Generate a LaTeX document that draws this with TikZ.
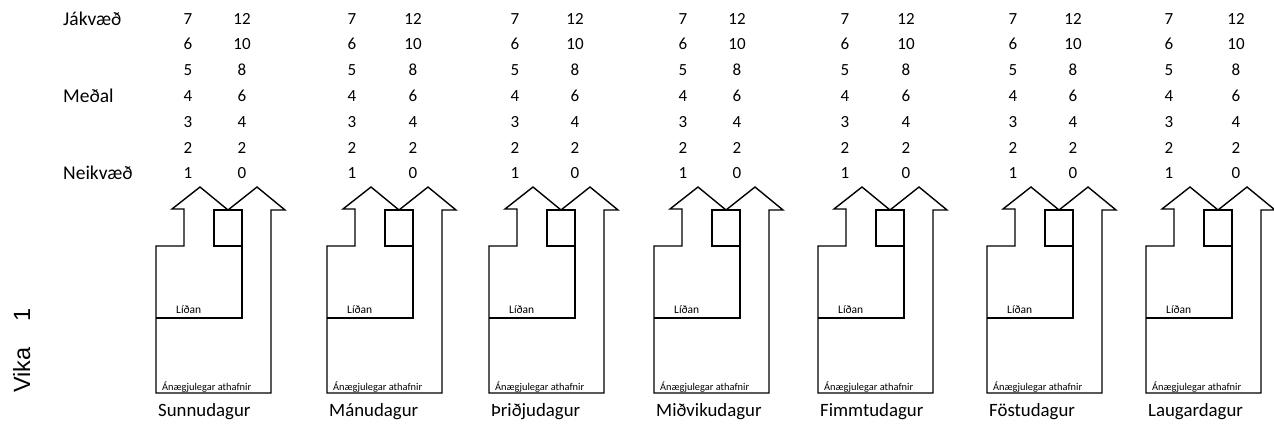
\documentclass[tikz,border=0pt]{standalone}
\usepackage{fontspec}
\setmainfont{Carlito}
\newfontfamily\vikafont{Liberation Sans}
\begin{document}
\begin{tikzpicture}[x=1pt,y=-1pt,
  outline/.style={draw=black,line width=1.4pt,line join=miter},
  numtxt/.style={inner sep=0pt,anchor=base,font=\fontsize{17}{18}\selectfont},
  lbltxt/.style={inner sep=0pt,anchor=base west,font=\fontsize{19.5}{20}\selectfont},
  daytxt/.style={inner sep=0pt,anchor=base west,font=\fontsize{18.8}{20}\selectfont},
  lidantxt/.style={inner sep=0pt,anchor=base west,font=\fontsize{11.5}{12}\selectfont},
  smalltxt/.style={inner sep=0pt,anchor=base west,font=\fontsize{10.4}{11}\selectfont}]
\useasboundingbox[fill=white] (0,0) rectangle (1274,429);
% left labels
\node[lbltxt] (jakvaed) at (63,25) {Jákvæð};
\node[lbltxt] (medal) at (63,102) {Meðal};
\node[lbltxt] (neikvaed) at (63,179) {Neikvæð};
% week label
\node[inner sep=0pt,anchor=base west,rotate=90,font=\vikafont\fontsize{23.5}{25}\selectfont] (vika) at (30,393) {Vika\hspace{26pt}1};
% days
\foreach \T/\L/\R/\day [count=\d] in {200/188/242/Sunnudagur,371/352/413/Mánudagur,533/515/575/Þriðjudagur,698/683/737/Miðvikudagur,862/845/906/Fimmtudagur,1031/1013/1073/Föstudagur,1190/1169/1236/Laugardagur}{
  \foreach \a/\b [count=\r from 0] in {7/12,6/10,5/8,4/6,3/4,2/2,1/0}{
    \node[numtxt] (l\d-\r) at (\L,24+25.83*\r) {\a};
    \node[numtxt] (r\d-\r) at (\R,24+25.83*\r) {\b};
  }
  % outer shape with both arrowheads
  \draw[outline] (\T-16,246) -- (\T-16,209) -- (\T-28,209) -- (\T,187) -- (\T+28,210)
     -- (\T+57,187) -- (\T+85,210) -- (\T+71,210) -- (\T+71,393) -- (\T-44,393)
     -- (\T-44,246) -- cycle;
  % inner square
  \draw[outline] (\T+14,210) rectangle (\T+42,246);
  % Liðan box
  \draw[outline] (\T+42,246) -- (\T+42,318) -- (\T-44,318);
  \node[lidantxt] (lidan\d) at (\T-24,313) {Líðan};
  \node[smalltxt] (anaegju\d) at (\T-38,390) {Ánægjulegar athafnir};
  \node[daytxt] (day\d) at (\T-42,416) {\day};
}
\end{tikzpicture}
\end{document}
